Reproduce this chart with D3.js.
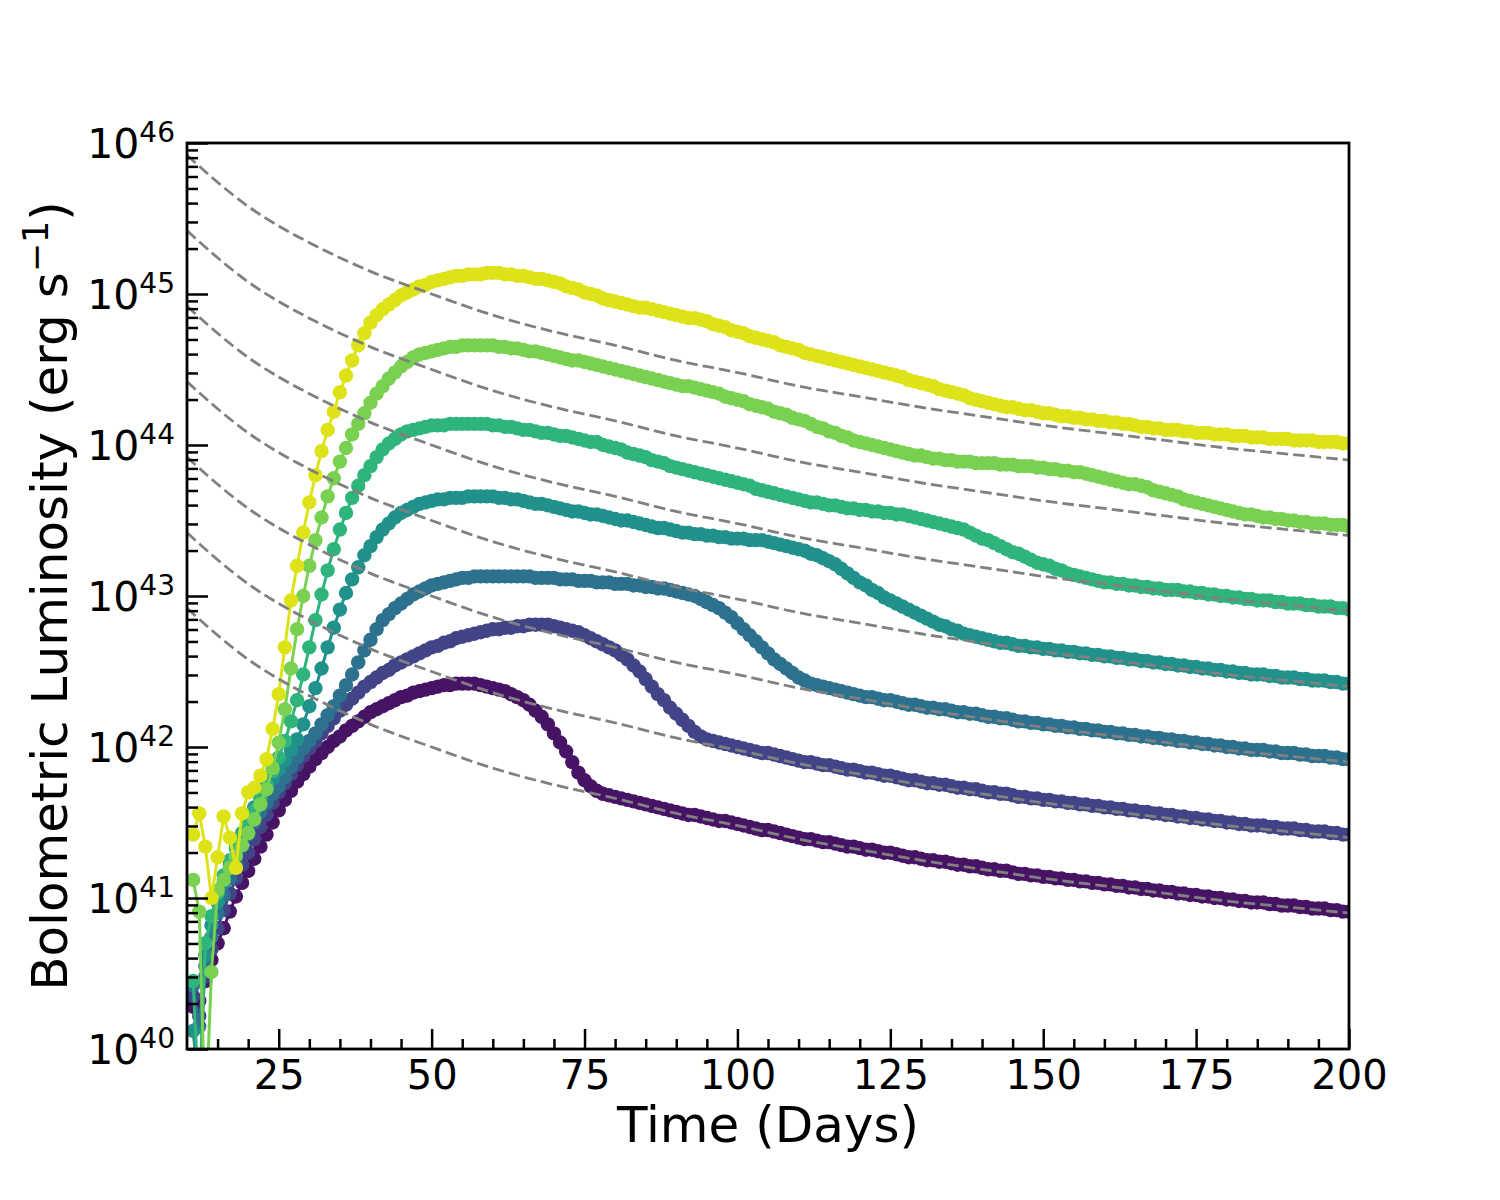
<!DOCTYPE html>
<html>
<head>
<meta charset="utf-8">
<script src="https://cdn.jsdelivr.net/npm/d3@7"></script>
<style>
  body { margin: 0; background: #fff; }
</style>
</head>
<body>
<div id="chart"></div>
<script>
// ---- data (log10 of luminosity, erg/s) ----
// light curves are sampled once a day from day 11 to day 200
var days = d3.range(11, 201);

var logL_s0 = [
  40.28,40.32,40.45,40.59,40.70,40.80,40.91,41.01,41.10,41.18,
  41.26,41.34,41.42,41.50,41.58,41.65,41.71,41.77,41.82,41.87,
  41.92,41.96,42.00,42.04,42.07,42.11,42.14,42.17,42.20,42.23,
  42.25,42.27,42.29,42.31,42.33,42.34,42.36,42.37,42.38,42.39,
  42.40,42.41,42.41,42.42,42.42,42.42,42.42,42.41,42.40,42.39,
  42.38,42.37,42.35,42.33,42.31,42.28,42.24,42.20,42.15,42.09,
  42.03,41.97,41.90,41.83,41.78,41.74,41.71,41.69,41.68,41.67,
  41.66,41.65,41.64,41.63,41.62,41.61,41.60,41.59,41.58,41.57,
  41.56,41.55,41.55,41.54,41.53,41.52,41.51,41.51,41.50,41.49,
  41.48,41.47,41.46,41.45,41.45,41.44,41.43,41.42,41.41,41.40,
  41.39,41.39,41.38,41.37,41.37,41.36,41.35,41.34,41.34,41.33,
  41.32,41.32,41.31,41.30,41.30,41.29,41.28,41.27,41.27,41.26,
  41.25,41.25,41.24,41.24,41.23,41.22,41.22,41.21,41.21,41.20,
  41.19,41.19,41.18,41.18,41.17,41.16,41.16,41.15,41.15,41.14,
  41.14,41.13,41.13,41.12,41.12,41.11,41.11,41.10,41.10,41.09,
  41.09,41.08,41.08,41.07,41.07,41.06,41.06,41.05,41.05,41.04,
  41.04,41.03,41.03,41.02,41.02,41.01,41.01,41.00,41.00,40.99,
  40.99,40.98,40.98,40.97,40.97,40.97,40.96,40.96,40.95,40.95,
  40.95,40.94,40.94,40.93,40.93,40.93,40.92,40.92,40.91,40.91
];
var logL_s1 = [
  40.35,40.22,40.48,40.66,40.80,40.92,41.03,41.13,41.22,41.30,
  41.39,41.47,41.55,41.63,41.70,41.76,41.82,41.88,41.94,41.99,
  42.04,42.09,42.14,42.19,42.24,42.28,42.32,42.36,42.40,42.43,
  42.46,42.49,42.51,42.54,42.56,42.58,42.60,42.62,42.64,42.66,
  42.67,42.69,42.70,42.72,42.73,42.74,42.75,42.76,42.77,42.78,
  42.78,42.79,42.79,42.80,42.80,42.81,42.81,42.81,42.81,42.80,
  42.79,42.78,42.77,42.76,42.74,42.72,42.70,42.68,42.66,42.64,
  42.61,42.58,42.54,42.50,42.45,42.40,42.35,42.31,42.26,42.22,
  42.18,42.14,42.10,42.07,42.05,42.04,42.03,42.02,42.01,42.00,
  41.99,41.98,41.97,41.96,41.96,41.95,41.94,41.93,41.92,41.91,
  41.90,41.90,41.89,41.88,41.88,41.87,41.86,41.85,41.85,41.84,
  41.83,41.83,41.82,41.81,41.81,41.80,41.79,41.78,41.78,41.77,
  41.76,41.76,41.75,41.75,41.74,41.73,41.73,41.72,41.72,41.71,
  41.70,41.70,41.69,41.69,41.68,41.67,41.67,41.66,41.66,41.65,
  41.65,41.64,41.64,41.63,41.63,41.62,41.62,41.61,41.61,41.60,
  41.60,41.59,41.59,41.58,41.58,41.57,41.57,41.56,41.56,41.55,
  41.55,41.54,41.54,41.53,41.53,41.52,41.52,41.51,41.51,41.50,
  41.50,41.49,41.49,41.48,41.48,41.48,41.47,41.47,41.46,41.46,
  41.46,41.45,41.45,41.44,41.44,41.44,41.43,41.43,41.42,41.42
];
var logL_s2 = [
  40.42,40.15,40.55,40.74,40.90,41.02,41.13,41.24,41.34,41.42,
  41.50,41.57,41.63,41.69,41.74,41.80,41.87,41.93,41.99,42.04,
  42.09,42.15,42.21,42.27,42.34,42.41,42.48,42.56,42.64,42.71,
  42.78,42.84,42.88,42.92,42.95,42.98,43.01,43.03,43.05,43.07,
  43.08,43.09,43.10,43.11,43.12,43.12,43.13,43.13,43.13,43.13,
  43.13,43.13,43.13,43.13,43.13,43.13,43.12,43.12,43.12,43.12,
  43.11,43.11,43.11,43.10,43.10,43.10,43.09,43.09,43.09,43.08,
  43.08,43.08,43.07,43.07,43.06,43.06,43.05,43.05,43.04,43.03,
  43.02,43.01,43.00,42.98,42.96,42.94,42.92,42.89,42.86,42.82,
  42.78,42.74,42.70,42.66,42.62,42.58,42.55,42.52,42.49,42.46,
  42.44,42.42,42.41,42.40,42.39,42.38,42.37,42.36,42.35,42.34,
  42.33,42.33,42.32,42.31,42.31,42.30,42.29,42.28,42.28,42.27,
  42.26,42.26,42.25,42.25,42.24,42.23,42.23,42.22,42.22,42.21,
  42.20,42.20,42.19,42.19,42.18,42.17,42.17,42.16,42.16,42.15,
  42.15,42.14,42.14,42.13,42.13,42.12,42.12,42.11,42.11,42.10,
  42.10,42.09,42.09,42.08,42.08,42.07,42.07,42.06,42.06,42.05,
  42.05,42.04,42.04,42.03,42.03,42.02,42.02,42.01,42.01,42.00,
  42.00,41.99,41.99,41.98,41.98,41.98,41.97,41.97,41.96,41.96,
  41.96,41.95,41.95,41.94,41.94,41.94,41.93,41.93,41.92,41.92
];
var logL_s3 = [
  40.12,39.70,40.62,40.82,40.97,41.10,41.22,41.33,41.43,41.52,
  41.60,41.67,41.73,41.79,41.85,41.91,41.98,42.05,42.15,42.27,
  42.39,42.52,42.66,42.79,42.91,43.02,43.11,43.19,43.27,43.33,
  43.39,43.44,43.48,43.52,43.55,43.57,43.59,43.61,43.62,43.63,
  43.64,43.64,43.65,43.65,43.65,43.66,43.66,43.66,43.66,43.66,
  43.65,43.65,43.64,43.64,43.63,43.62,43.61,43.61,43.60,43.59,
  43.58,43.57,43.56,43.56,43.55,43.54,43.54,43.53,43.52,43.51,
  43.50,43.50,43.49,43.48,43.47,43.46,43.45,43.45,43.44,43.43,
  43.42,43.42,43.41,43.41,43.40,43.40,43.39,43.39,43.38,43.38,
  43.38,43.37,43.37,43.37,43.36,43.35,43.34,43.33,43.32,43.31,
  43.30,43.28,43.27,43.25,43.23,43.21,43.18,43.15,43.12,43.09,
  43.07,43.04,43.02,42.99,42.97,42.95,42.93,42.91,42.89,42.87,
  42.85,42.83,42.81,42.80,42.78,42.77,42.75,42.74,42.73,42.72,
  42.71,42.70,42.69,42.69,42.68,42.67,42.67,42.66,42.66,42.65,
  42.65,42.64,42.64,42.63,42.63,42.62,42.62,42.61,42.61,42.60,
  42.60,42.59,42.59,42.58,42.58,42.57,42.57,42.56,42.56,42.55,
  42.55,42.54,42.54,42.53,42.53,42.52,42.52,42.51,42.51,42.50,
  42.50,42.49,42.49,42.48,42.48,42.48,42.47,42.47,42.46,42.46,
  42.46,42.45,42.45,42.44,42.44,42.44,42.43,42.43,42.42,42.42
];
var logL_s4 = [
  40.45,39.60,40.70,40.88,41.03,41.15,41.25,41.34,41.42,41.50,
  41.58,41.66,41.75,41.84,41.93,42.04,42.17,42.31,42.48,42.66,
  42.84,43.01,43.17,43.31,43.44,43.55,43.65,43.73,43.80,43.86,
  43.92,43.97,44.01,44.04,44.07,44.09,44.10,44.11,44.12,44.13,
  44.13,44.13,44.14,44.14,44.14,44.14,44.14,44.14,44.14,44.13,
  44.13,44.12,44.12,44.11,44.10,44.10,44.09,44.08,44.08,44.07,
  44.06,44.06,44.05,44.04,44.03,44.02,44.02,44.00,43.99,43.98,
  43.97,43.95,43.94,43.93,43.92,43.90,43.89,43.88,43.86,43.85,
  43.84,43.83,43.82,43.81,43.80,43.79,43.78,43.77,43.76,43.75,
  43.74,43.73,43.71,43.70,43.69,43.68,43.67,43.66,43.65,43.64,
  43.63,43.62,43.62,43.61,43.60,43.60,43.59,43.58,43.58,43.57,
  43.57,43.56,43.56,43.55,43.55,43.54,43.54,43.53,43.52,43.51,
  43.50,43.49,43.48,43.47,43.46,43.45,43.44,43.42,43.40,43.38,
  43.37,43.35,43.33,43.31,43.29,43.28,43.26,43.24,43.22,43.21,
  43.20,43.18,43.17,43.15,43.14,43.13,43.12,43.11,43.10,43.09,
  43.09,43.08,43.08,43.07,43.07,43.06,43.06,43.05,43.05,43.04,
  43.04,43.04,43.03,43.03,43.02,43.02,43.01,43.01,43.00,43.00,
  42.99,42.99,42.98,42.98,42.97,42.97,42.97,42.96,42.96,42.95,
  42.95,42.95,42.94,42.94,42.93,42.93,42.93,42.92,42.92,42.91
];
var logL_s5 = [
  41.12,40.91,39.50,40.51,41.05,41.12,41.20,41.28,41.35,41.43,
  41.52,41.62,41.72,41.86,42.03,42.25,42.52,42.78,43.00,43.20,
  43.37,43.52,43.66,43.78,43.89,43.98,44.07,44.14,44.21,44.28,
  44.34,44.39,44.44,44.48,44.52,44.55,44.58,44.60,44.61,44.62,
  44.63,44.64,44.65,44.65,44.66,44.66,44.66,44.66,44.66,44.66,
  44.65,44.65,44.64,44.64,44.63,44.62,44.62,44.61,44.60,44.59,
  44.58,44.57,44.56,44.56,44.55,44.54,44.53,44.52,44.51,44.50,
  44.49,44.48,44.47,44.46,44.45,44.44,44.43,44.42,44.41,44.40,
  44.39,44.39,44.38,44.37,44.36,44.35,44.34,44.32,44.31,44.30,
  44.29,44.27,44.26,44.25,44.24,44.22,44.21,44.20,44.18,44.17,
  44.16,44.14,44.12,44.11,44.09,44.08,44.06,44.05,44.03,44.02,
  44.01,44.00,43.99,43.98,43.97,43.96,43.95,43.94,43.93,43.93,
  43.92,43.91,43.91,43.90,43.90,43.89,43.89,43.89,43.88,43.88,
  43.88,43.88,43.87,43.87,43.87,43.86,43.86,43.86,43.85,43.85,
  43.84,43.84,43.83,43.83,43.82,43.82,43.81,43.80,43.79,43.78,
  43.77,43.76,43.75,43.74,43.74,43.73,43.72,43.70,43.69,43.68,
  43.67,43.66,43.64,43.63,43.62,43.61,43.60,43.59,43.58,43.57,
  43.56,43.55,43.54,43.54,43.53,43.52,43.52,43.51,43.51,43.50,
  43.50,43.49,43.49,43.48,43.48,43.48,43.47,43.47,43.47,43.46
];
var logL_s6 = [
  41.42,41.56,41.34,41.00,41.27,41.54,41.40,41.20,41.56,41.70,
  41.73,41.81,41.92,42.12,42.35,42.66,42.97,43.20,43.42,43.62,
  43.80,43.96,44.10,44.22,44.35,44.46,44.56,44.66,44.74,44.81,
  44.86,44.90,44.93,44.96,44.99,45.01,45.03,45.05,45.06,45.08,
  45.09,45.10,45.11,45.12,45.12,45.13,45.13,45.13,45.14,45.14,
  45.14,45.13,45.13,45.12,45.12,45.11,45.10,45.10,45.09,45.08,
  45.07,45.05,45.04,45.03,45.01,45.00,44.99,44.97,44.96,44.95,
  44.94,44.93,44.92,44.91,44.91,44.90,44.89,44.88,44.87,44.86,
  44.85,44.84,44.84,44.83,44.82,44.80,44.79,44.78,44.76,44.75,
  44.74,44.72,44.71,44.70,44.69,44.68,44.66,44.65,44.64,44.63,
  44.61,44.60,44.59,44.58,44.57,44.56,44.55,44.54,44.53,44.52,
  44.51,44.50,44.49,44.48,44.47,44.46,44.45,44.43,44.42,44.41,
  44.40,44.39,44.37,44.36,44.35,44.34,44.33,44.31,44.30,44.29,
  44.28,44.27,44.26,44.25,44.25,44.24,44.23,44.23,44.22,44.21,
  44.21,44.20,44.19,44.19,44.18,44.18,44.17,44.17,44.16,44.16,
  44.15,44.15,44.14,44.14,44.13,44.12,44.12,44.11,44.11,44.10,
  44.10,44.10,44.09,44.09,44.08,44.08,44.08,44.07,44.07,44.07,
  44.06,44.06,44.06,44.05,44.05,44.05,44.04,44.04,44.04,44.04,
  44.03,44.03,44.03,44.03,44.02,44.02,44.02,44.02,44.01,44.01
];

// dashed heating curves, read every few days
var heatDays = [10,15,20,25,30,40,50,60,70,80,90,100,110,120,130,140,150,160,170,180,190,200];
var heat_0 = [45.92,45.74,45.58,45.45,45.34,45.15,45.00,44.86,44.75,44.66,44.56,44.48,44.39,44.32,44.25,44.19,44.13,44.08,44.03,43.98,43.94,43.90];
var heat_1 = [45.42,45.24,45.08,44.95,44.84,44.65,44.50,44.36,44.25,44.16,44.06,43.98,43.89,43.82,43.75,43.69,43.63,43.58,43.53,43.48,43.44,43.40];
var heat_2 = [44.92,44.74,44.58,44.45,44.34,44.15,44.00,43.86,43.75,43.66,43.56,43.48,43.39,43.32,43.25,43.19,43.13,43.08,43.03,42.98,42.94,42.90];
var heat_3 = [44.42,44.24,44.08,43.95,43.84,43.65,43.50,43.36,43.25,43.16,43.06,42.98,42.89,42.82,42.75,42.69,42.63,42.58,42.53,42.48,42.44,42.40];
var heat_4 = [43.92,43.74,43.58,43.45,43.34,43.15,43.00,42.86,42.75,42.66,42.56,42.48,42.39,42.32,42.25,42.19,42.13,42.08,42.03,41.98,41.94,41.90];
var heat_5 = [43.42,43.24,43.08,42.95,42.84,42.65,42.50,42.36,42.25,42.16,42.06,41.98,41.89,41.82,41.75,41.69,41.63,41.58,41.53,41.48,41.44,41.40];
var heat_6 = [42.92,42.74,42.58,42.45,42.34,42.15,42.00,41.86,41.75,41.66,41.56,41.48,41.39,41.32,41.25,41.19,41.13,41.08,41.03,40.98,40.94,40.90];

var xTicks = [25, 50, 75, 100, 125, 150, 175, 200];
var yDecades = [40, 41, 42, 43, 44, 45, 46];

var seriesList = [logL_s0, logL_s1, logL_s2, logL_s3, logL_s4, logL_s5, logL_s6];
var heatList = [heat_0, heat_1, heat_2, heat_3, heat_4, heat_5, heat_6];
var seriesColors = ["#471365", "#414487", "#2c718e", "#21918c", "#2fb47c", "#7ad151", "#dde318"];

// ---- layout ----
var svgWidth = 1500;
var svgHeight = 1200;
var margin = { top: 143, right: 151, bottom: 151, left: 187 };
var width = svgWidth - margin.left - margin.right;
var height = svgHeight - margin.top - margin.bottom;
var font = "DejaVu Sans, Verdana, sans-serif";

var svg = d3.select("#chart")
  .append("svg")
  .attr("width", svgWidth)
  .attr("height", svgHeight)
  .style("background", "#fff");

var chartGroup = svg.append("g")
  .attr("transform", `translate(${margin.left}, ${margin.top})`);

chartGroup.append("clipPath")
  .attr("id", "plot-clip")
  .append("rect")
  .attr("width", width)
  .attr("height", height);

var xScale = d3.scaleLinear().domain([10, 200]).range([0, width]);
var yScale = d3.scaleLog().domain([1e40, 1e46]).range([height, 0]);

var lum = v => Math.pow(10, v);

var plotArea = chartGroup.append("g").attr("clip-path", "url(#plot-clip)");

// light curves: line + dot markers
var curveLine = d3.line()
  .x((d, i) => xScale(days[i]))
  .y(d => yScale(lum(d)));

seriesList.forEach((vals, k) => {
  var g = plotArea.append("g");
  g.append("path")
    .attr("d", curveLine(vals))
    .attr("fill", "none")
    .attr("stroke", seriesColors[k])
    .attr("stroke-width", 3);
  g.selectAll("circle")
    .data(vals)
    .enter()
    .append("circle")
    .attr("cx", (d, i) => xScale(days[i]))
    .attr("cy", d => yScale(lum(d)))
    .attr("r", 7.2)
    .attr("fill", seriesColors[k]);
});

// dashed heating curves on top
var heatLine = d3.line()
  .x((d, i) => xScale(heatDays[i]))
  .y(d => yScale(lum(d)))
  .curve(d3.curveMonotoneX);

heatList.forEach(vals => {
  plotArea.append("path")
    .attr("d", heatLine(vals))
    .attr("fill", "none")
    .attr("stroke", "#808080")
    .attr("stroke-width", 2.8)
    .attr("stroke-dasharray", "11.6,5");
});

// ---- axes (ticks point inward) ----
var xMinor = d3.range(15, 200, 5).filter(v => v % 25 !== 0);
var yMinor = [];
yDecades.slice(0, -1).forEach(e => {
  for (var m = 2; m <= 9; m++) yMinor.push(m * Math.pow(10, e));
});

function styleAxis(g) {
  g.select(".domain").remove();
  g.selectAll(".tick line").attr("stroke", "#000").attr("stroke-width", 2.5);
}

chartGroup.append("g")
  .attr("transform", `translate(0,${height})`)
  .call(d3.axisBottom(xScale).tickValues(xMinor).tickSize(-10).tickSizeOuter(0).tickFormat(""))
  .call(styleAxis);

chartGroup.append("g")
  .attr("transform", `translate(0,${height})`)
  .call(d3.axisBottom(xScale).tickValues(xTicks).tickSize(-20).tickSizeOuter(0).tickPadding(12).tickFormat(d3.format("d")))
  .call(styleAxis)
  .attr("font-family", font)
  .attr("font-size", 40)
  .selectAll("text").attr("fill", "#000");

chartGroup.append("g")
  .call(d3.axisLeft(yScale).tickValues(yMinor).tickSize(-11).tickSizeOuter(0).tickFormat(""))
  .call(styleAxis);

var yAxis = chartGroup.append("g")
  .call(d3.axisLeft(yScale).tickValues(yDecades.map(lum)).tickSize(-21).tickSizeOuter(0).tickPadding(12))
  .call(styleAxis)
  .attr("font-family", font)
  .attr("font-size", 41);

yAxis.selectAll(".tick text").each(function(d) {
  var t = d3.select(this).attr("fill", "#000").attr("dy", "0.36em");
  t.text("10");
  t.append("tspan")
    .attr("dy", -16)
    .attr("font-size", 28)
    .text(Math.round(Math.log10(d)));
});

// frame
chartGroup.append("rect")
  .attr("width", width)
  .attr("height", height)
  .attr("fill", "none")
  .attr("stroke", "#000")
  .attr("stroke-width", 2.8);

// ---- axis titles ----
svg.append("text")
  .attr("x", margin.left + width / 2)
  .attr("y", 1142)
  .attr("text-anchor", "middle")
  .attr("font-family", font)
  .attr("font-size", 50)
  .text("Time (Days)");

var yTitle = svg.append("text")
  .attr("transform", `translate(67, ${margin.top + height / 2}) rotate(-90)`)
  .attr("text-anchor", "middle")
  .attr("font-family", font)
  .attr("font-size", 50);
yTitle.append("tspan").text("Bolometric Luminosity (erg s");
yTitle.append("tspan").attr("dy", -19).attr("font-size", 35).text("\u22121");
yTitle.append("tspan").attr("dy", 19).text(")");
</script>
</body>
</html>
